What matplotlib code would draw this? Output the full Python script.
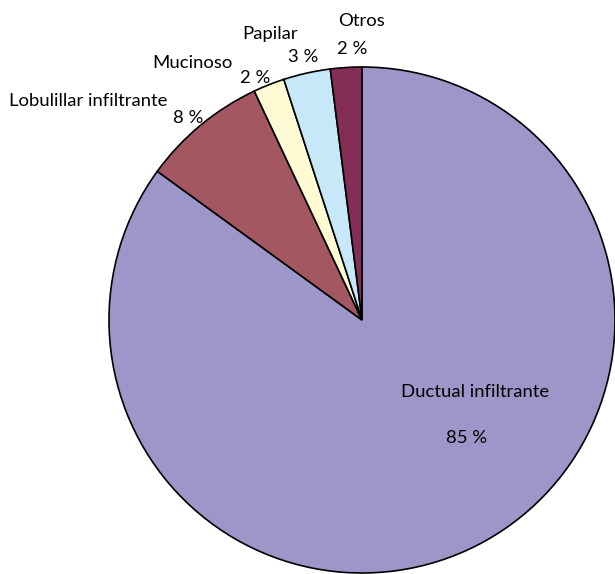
import matplotlib.pyplot as plt

# Tipos histologicos
tipos = ['Ductual infiltrante', 'Lobulillar infiltrante', 'Mucinoso', 'Papilar', 'Otros']
porcentajes = [85, 8, 2, 3, 2]
colores = ['#9D96C9', '#A35760', '#FEFAD4', '#C7E8F8', '#842E55']

# label centers in pixels (name, value) -- layout only
pos_nombre = [(475, 392), (88, 101), (192, 63), (270, 34), (362, 21)]
pos_valor = [(467, 438), (188, 118), (255, 78), (303, 57), (352, 49)]

W, H = 615, 574
cx, cy, r = 362, 320, 253

plt.rcParams['font.family'] = ['Lato', 'DejaVu Sans']

fig = plt.figure(figsize=(W / 100, H / 100), dpi=100)
ax = fig.add_axes([0, 0, 1, 1])
ax.pie(porcentajes, colors=colores, startangle=90, counterclock=False,
       wedgeprops=dict(edgecolor='black', linewidth=1.2))
ax.set_xlim(-cx / r, (W - cx) / r)
ax.set_ylim(-(H - cy) / r, cy / r)
ax.set_aspect('equal')
ax.axis('off')

def to_data(p):
    return (p[0] - cx) / r, (cy - p[1]) / r

for t, v, pn, pv in zip(tipos, porcentajes, pos_nombre, pos_valor):
    x, y = to_data(pn)
    ax.text(x, y, t, ha='center', va='center', fontsize=13.3)
    x, y = to_data(pv)
    ax.text(x, y, f'{v} %', ha='center', va='center', fontsize=13.3)

fig.savefig('out.png', dpi=100)
